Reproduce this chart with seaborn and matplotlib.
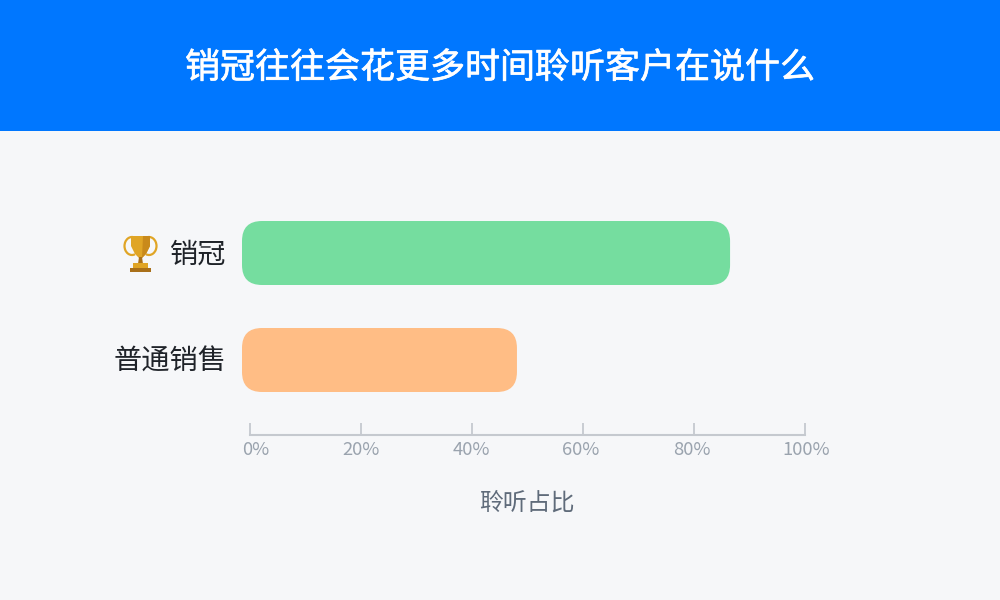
"""
Share of time spent listening: top sales vs regular sales
"""
import matplotlib
matplotlib.use("Agg")
import matplotlib.patheffects as pe
import matplotlib.pyplot as plt
import pandas as pd
import seaborn as sns
from matplotlib.patches import Arc, FancyBboxPatch, Polygon, Rectangle
from matplotlib.transforms import IdentityTransform, ScaledTranslation

categories = ["销冠", "普通销售"]
listen_share = [86.5, 48.1]
bar_colors = ["#75DD9F", "#FFBD85"]
tick_values = [0, 20, 40, 60, 80, 100]
tick_labels = ["0%", "20%", "40%", "60%", "80%", "100%"]
# small horizontal shift of each tick label, in pixels
label_shift = [6, 0, -1, -2, -2, 1]

BG = "#F6F7F9"
BLUE = "#0077FF"
AXIS = "#C5C9CF"

sns.set_theme(style="white")
plt.rcParams['font.family'] = ['Noto Sans CJK SC', 'DejaVu Sans']

fig = plt.figure(figsize=(10, 6), dpi=100, facecolor=BG)

# pixel-coordinate layer for the header and the trophy
bg = fig.add_axes([0, 0, 1, 1], zorder=0)
bg.set_xlim(0, 1000)
bg.set_ylim(600, 0)
bg.axis("off")
bg.add_patch(Rectangle((0, 0), 1000, 131, color=BLUE, lw=0))
title = bg.text(500, 68, "销冠往往会花更多时间聆听客户在说什么", color="white",
                fontsize=25.2, ha="center", va="center")
# the original title is a bit heavier than the regular weight
title.set_path_effects([pe.withStroke(linewidth=0.5, foreground="white")])
bg.text(527, 503, "聆听占比", color="#5F6B7A", fontsize=17.2, ha="center", va="center")

# trophy
gold = "#E0A526"
dark = "#A9701A"
bg.add_patch(Arc((132, 246), 15, 18, theta1=70, theta2=290, color=gold, lw=1.6))
bg.add_patch(Arc((149, 246), 15, 18, theta1=250, theta2=110, color=gold, lw=1.6))
bg.add_patch(Polygon([(131, 236), (150, 236), (150, 246), (146, 254), (142, 258),
                      (139, 258), (135, 254), (131, 246)], color=gold, lw=0))
bg.add_patch(Polygon([(143, 236), (150, 236), (150, 246), (146, 254), (142, 258)],
                     color="#C98A1B", lw=0))
bg.add_patch(Polygon([(139, 257), (142, 257), (143, 264), (138, 264)], color=dark, lw=0))
bg.add_patch(Rectangle((133, 263), 15, 5, color=gold, lw=0))
bg.add_patch(Rectangle((130, 268), 21, 4, color=dark, lw=0))

ax = fig.add_axes([0.25, (600 - 434.5) / 600, 0.555, 234.5 / 600], zorder=1)
ax.patch.set_alpha(0)

df = pd.DataFrame({"group": categories, "share": listen_share})
sns.barplot(data=df, y="group", x="share", hue="group", palette=bar_colors,
            saturation=1, legend=False, width=64 / 107, ax=ax)

ax.set_xlim(0, 100)
ax.set_ylim(1 + 74.5 / 107, -(253 - 200) / 107)
ax.set_xlabel("")
ax.set_ylabel("")

for s in ["top", "right", "left"]:
    ax.spines[s].set_visible(False)
ax.spines["bottom"].set_color(AXIS)
ax.spines["bottom"].set_linewidth(1.5)

ax.set_xticks(tick_values)
ax.set_xticklabels(tick_labels)
ax.tick_params(axis="x", direction="in", length=9, width=1.3, color=AXIS,
               labelcolor="#9AA3AE", labelsize=13.3, pad=4.5, bottom=True)
ax.tick_params(axis="y", length=0, labelsize=20.3, labelcolor="#1F2329", pad=17, left=False)
for lab, dx in zip(ax.get_xticklabels(), label_shift):
    lab.set_transform(lab.get_transform() + ScaledTranslation(dx / 100, 0, fig.dpi_scale_trans))
for lab in ax.get_yticklabels():
    lab.set_transform(lab.get_transform() + ScaledTranslation(0, 0.015, fig.dpi_scale_trans))

# swap the square bars for rounded ones, the left end sticks out past the zero tick
fig.canvas.draw()
radius = 20
for bar in list(ax.patches):
    box = bar.get_window_extent()
    x0 = box.x0 - 8
    rounded = FancyBboxPatch((x0 + radius, box.y0 + radius),
                             box.x1 - x0 - 2 * radius, box.height - 2 * radius,
                             boxstyle=f"round,pad={radius},rounding_size={radius}",
                             transform=IdentityTransform(), clip_on=False,
                             facecolor=bar.get_facecolor(), edgecolor="none", zorder=3)
    bar.set_visible(False)
    ax.add_patch(rounded)

fig.savefig("out.png", dpi=100, facecolor=BG)
